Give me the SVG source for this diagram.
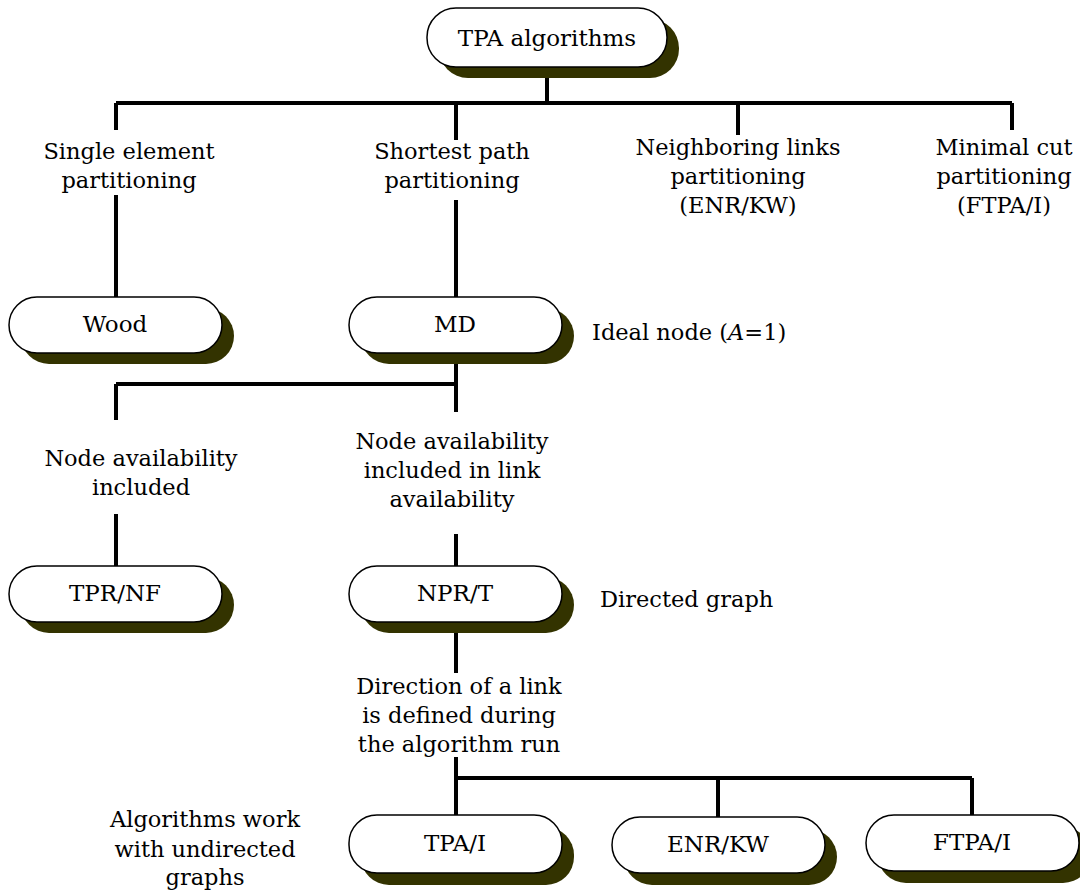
<svg xmlns="http://www.w3.org/2000/svg" width="1080" height="891" viewBox="0 0 1080 891">
  <style>
    text { font-family: "DejaVu Serif", "Liberation Serif", serif; font-size: 22.5px; fill: #000; }
    .c { text-anchor: middle; }
    .n { font-size: 23px; }
    .shadow { fill: #333300; }
    .box { fill: #fff; stroke: #000; stroke-width: 1.5; }
    .link { stroke: #000; stroke-width: 4; fill: none; stroke-linecap: butt; }
  </style>
  <rect width="1080" height="891" fill="#fff"/>

  <!-- connectors -->
  <g id="connectors" class="link">
    <path d="M547 67V103M116 103H1012M116 103V130M456 103V140M738 103V135M1012 103V130"/>
    <path d="M116 195V297M456 200V297"/>
    <path d="M456 353V412M116 384H456M116 384V420"/>
    <path d="M116 514V566M456 534V566"/>
    <path d="M456 622V673"/>
    <path d="M456 757V815M456 778H972M718 778V817M972 778V815"/>
  </g>

  <!-- nodes -->
  <g id="n-tpa-algorithms">
    <rect class="shadow" x="439" y="19" width="240" height="59" rx="29"/>
    <rect class="box" x="427" y="8" width="240" height="59" rx="29"/>
    <text class="c n" x="547" y="46">TPA algorithms</text>
  </g>
  <g id="n-wood">
    <rect class="shadow" x="21" y="308" width="213" height="56" rx="28"/>
    <rect class="box" x="9" y="297" width="213" height="56" rx="28"/>
    <text class="c n" x="115" y="332">Wood</text>
  </g>
  <g id="n-md">
    <rect class="shadow" x="361" y="308" width="213" height="56" rx="28"/>
    <rect class="box" x="349" y="297" width="213" height="56" rx="28"/>
    <text class="c n" x="455" y="332">MD</text>
  </g>
  <g id="n-tpr-nf">
    <rect class="shadow" x="21" y="577" width="213" height="56" rx="28"/>
    <rect class="box" x="9" y="566" width="213" height="56" rx="28"/>
    <text class="c n" x="115" y="601">TPR/NF</text>
  </g>
  <g id="n-npr-t">
    <rect class="shadow" x="361" y="577" width="213" height="56" rx="28"/>
    <rect class="box" x="349" y="566" width="213" height="56" rx="28"/>
    <text class="c n" x="455" y="601">NPR/T</text>
  </g>
  <g id="n-tpa-i">
    <rect class="shadow" x="361" y="827" width="213" height="58" rx="28"/>
    <rect class="box" x="349" y="815" width="213" height="58" rx="28"/>
    <text class="c n" x="455" y="851">TPA/I</text>
  </g>
  <g id="n-enr-kw">
    <rect class="shadow" x="624" y="829" width="213" height="56" rx="28"/>
    <rect class="box" x="612" y="817" width="213" height="56" rx="28"/>
    <text class="c n" x="718" y="852">ENR/KW</text>
  </g>
  <g id="n-ftpa-i">
    <rect class="shadow" x="878" y="827" width="213" height="56" rx="28"/>
    <rect class="box" x="866" y="815" width="213" height="56" rx="28"/>
    <text class="c n" x="972" y="850">FTPA/I</text>
  </g>

  <!-- branch labels -->
  <g id="labels">
    <text class="c" x="129" y="159">Single element</text>
    <text class="c" x="129" y="188">partitioning</text>
    <text class="c" x="452" y="159">Shortest path</text>
    <text class="c" x="452" y="188">partitioning</text>
    <text class="c" x="738" y="155">Neighboring links</text>
    <text class="c" x="738" y="184">partitioning</text>
    <text class="c" x="738" y="213">(ENR/KW)</text>
    <text class="c" x="1004" y="155">Minimal cut</text>
    <text class="c" x="1004" y="184">partitioning</text>
    <text class="c" x="1004" y="213">(FTPA/I)</text>
    <text x="592" y="340">Ideal node (<tspan font-style="italic">A</tspan>=1)</text>
    <text class="c" x="141" y="466">Node availability</text>
    <text class="c" x="141" y="495">included</text>
    <text class="c" x="452" y="449">Node availability</text>
    <text class="c" x="452" y="478">included in link</text>
    <text class="c" x="452" y="507">availability</text>
    <text x="600" y="607">Directed graph</text>
    <text class="c" x="459" y="694">Direction of a link</text>
    <text class="c" x="459" y="723">is defined during</text>
    <text class="c" x="459" y="752">the algorithm run</text>
    <text class="c" x="205" y="827">Algorithms work</text>
    <text class="c" x="205" y="857">with undirected</text>
    <text class="c" x="205" y="885">graphs</text>
  </g>
</svg>
